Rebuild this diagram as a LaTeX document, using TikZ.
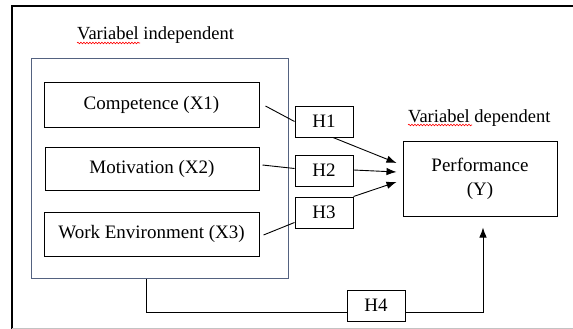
\documentclass[tikz,border=0pt]{standalone}
\usepackage{fontspec}
\setmainfont{Liberation Serif}
\usetikzlibrary{arrows.meta,calc,decorations.pathmorphing}
\definecolor{slate}{RGB}{84,98,128}
\definecolor{framegrey}{RGB}{195,195,195}
\begin{document}
\begin{tikzpicture}[x=1pt,y=-1pt,
  every node/.style={font=\fontsize{19}{24}\selectfont},
  box/.style={draw=black,line width=1pt,inner sep=0pt,align=center},
  hbox/.style={box,minimum width=58pt,minimum height=31pt},
  vbox/.style={box,minimum width=215pt,minimum height=44pt},
  conn/.style={line width=0.9pt},
  arr/.style={conn,-{Latex[length=10pt,width=7.5pt]}},
  squig/.style={red,line width=0.6pt,decorate,decoration={snake,amplitude=0.8pt,segment length=3pt}},
  lab/.style={inner sep=0pt,anchor=base west,font=\fontsize{18.5}{24}\selectfont}]
\useasboundingbox (0,0) rectangle (573,329);
% outer frame
\draw[line width=1.2pt] (573,6) -- (12,6) -- (12,329);
\draw[framegrey,line width=1pt] (12,328) -- (573,328);
% independent group
\node[draw=slate,line width=1pt,minimum width=257pt,minimum height=219pt,inner sep=0pt] (indep) at (159.5,168.5) {};
\node[lab] (indlab) at (77,40) {Variabel independent};
\draw[squig] ($(indlab.base west)+(0,3)$) -- ($(indlab.base west)+(63,3)$);
\node[vbox] (comp) at (151.5,105) {Competence (X1)};
\node[vbox,minimum width=214pt,minimum height=43pt] (motiv) at (152,168.5) {Motivation (X2)};
\node[vbox] (work) at (151.5,234) {Work Environment (X3)};
% hypotheses
\node[hbox] (H1) at (324,121.5) {H1};
\node[hbox] (H2) at (324,170.5) {H2};
\node[hbox] (H3) at (324,212.5) {H3};
\node[hbox] (H4) at (376,305.5) {H4};
% dependent
\node[box,minimum width=154pt,minimum height=75pt] (perf) at (480,178.5) {Performance\\(Y)};
\node[lab] (deplab) at (408,122) {Variabel dependent};
\draw[squig] ($(deplab.base west)+(0,3)$) -- ($(deplab.base west)+(64,3)$);
% connectors
\draw[conn] ($(comp.east)+(6,1)$) -- (H1.west);
\draw[conn] ($(motiv.east)+(3,-3.5)$) -- ($(H2.west)+(0,-2)$);
\draw[conn] ($(work.east)+(4,1)$) -- ($(H3.south west)+(0,-6)$);
\draw[arr] ($(H1.south)+(9,0)$) -- ($(perf.west)+(-6,-15.5)$);
\draw[arr] ($(H2.east)+(0,-0.5)$) -- ($(perf.west)+(-6,-6.5)$);
\draw[arr] (H3.north east) -- ($(perf.west)+(-6,3.5)$);
\coordinate (h4start) at ($(indep.south west)+(116,0)$);
\draw[conn] (h4start) |- ($(H4.south west)+(0,-9)$);
\draw[arr] ($(H4.south east)+(0,-9)$) -| ($(perf.south)+(3,11)$);
\end{tikzpicture}
\end{document}
